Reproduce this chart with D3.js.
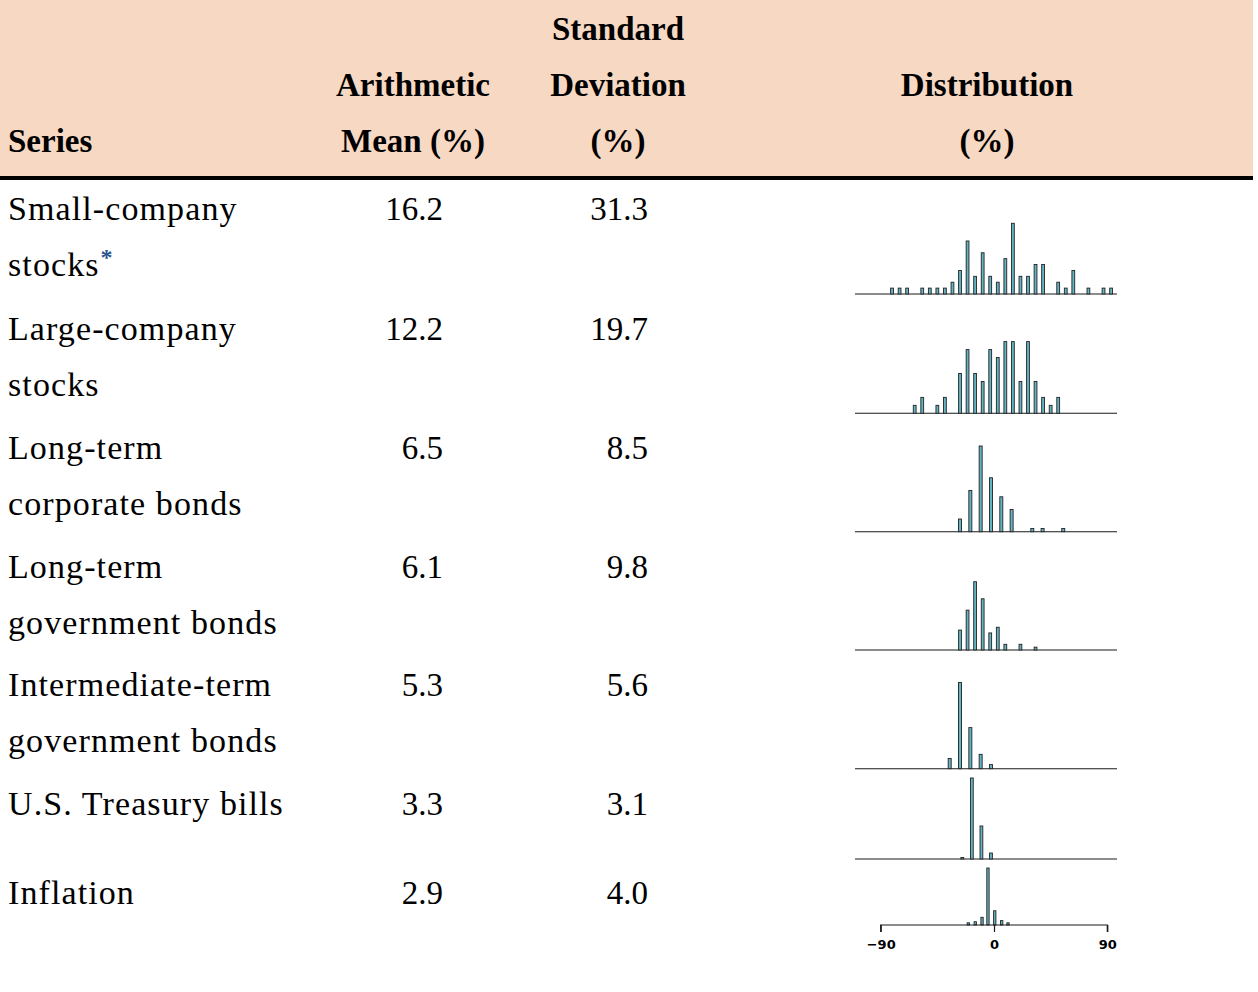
<!DOCTYPE html>
<html><head><meta charset="utf-8">
<script src="https://cdn.jsdelivr.net/npm/d3@7"></script>
<style>
html,body{margin:0;padding:0;background:#fff;}
svg{display:block;}
</style></head>
<body>
<svg id="chart" width="1258" height="992"></svg>
<script>
// ---- data ----
const seriesNames = [
  ["Small-company", "stocks"],
  ["Large-company", "stocks"],
  ["Long-term", "corporate bonds"],
  ["Long-term", "government bonds"],
  ["Intermediate-term", "government bonds"],
  ["U.S. Treasury bills"],
  ["Inflation"]
];
const arithmeticMean = ["16.2", "12.2", "6.5", "6.1", "5.3", "3.3", "2.9"];
const standardDeviation = ["31.3", "19.7", "8.5", "9.8", "5.6", "3.1", "4.0"];

// distribution bins: centre of each bin (%) and number of years
const smallBins   = [-81,-75,-69,-57,-51,-45,-39,-33,-27,-21,-15,-9,-3,3,9,15,21,27,33,39,51,57,63,75,87,93];
const smallCounts = [1,1,1,1,1,1,1,2,4,9,3,7,3,2,6,12,3,3,5,5,2,1,4,1,1,1];
const largeBins   = [-63,-57,-45,-39,-27,-21,-15,-9,-3,3,9,15,21,27,33,39,45,51];
const largeCounts = [1,2,1,2,5,8,5,4,8,7,9,9,4,9,4,2,1,2];
const corpBins    = [-27,-18.8,-10.6,-2.4,5.8,14,30.4,38.6,55];
const corpCounts  = [4,13,27,17,11,7,1,1,1];
const govBins     = [-27,-21,-15,-9,-3,3,9,21,33];
const govCounts   = [7,14,24,18,6,8,2,2,1];
const interBins   = [-35.2,-27,-18.8,-10.6,-2.4];
const interCounts = [5,42,20,7,2];
const billBins    = [-25.2,-17.6,-10.0,-2.4];
const billCounts  = [1,54,22,4];
const inflBins    = [-20.4,-14.9,-9.5,-4.8,0.6,6.1,11.1];
const inflCounts  = [2,3,7,52,13,4,2];
const axisTicks   = [-90, 0, 90];

const distBins   = [smallBins, largeBins, corpBins, govBins, interBins, billBins, inflBins];
const distCounts = [smallCounts, largeCounts, corpCounts, govCounts, interCounts, billCounts, inflCounts];

// ---- layout ----
const rowTop = [220, 340, 459, 578, 696, 815, 904];   // first-line baselines
const lineGap = 55.5;
const histBase = [294, 413.3, 531.7, 650, 768.7, 859, 925];
const histHeight = [70.7, 71.7, 85.7, 68.3, 86.3, 81, 57];
const barW = [2.8, 2.8, 3.0, 2.8, 3.0, 2.8, 2.3];

const svg = d3.select("#chart");
const serif = "'Liberation Serif','Times New Roman',Times,serif";

// header band
svg.append("rect").attr("x",0).attr("y",0).attr("width",1253).attr("height",176).attr("fill","#f7d8c3");
svg.append("rect").attr("x",0).attr("y",176).attr("width",1253).attr("height",4).attr("fill","#000");

const head = svg.append("g").attr("font-family", serif).attr("font-weight","bold")
  .attr("font-size", 33).attr("fill","#000");
const headers = [
  {x:8, anchor:"start", lines:[null,null,"Series"]},
  {x:413, anchor:"middle", lines:[null,"Arithmetic","Mean (%)"]},
  {x:618, anchor:"middle", lines:["Standard","Deviation","(%)"]},
  {x:987, anchor:"middle", lines:[null,"Distribution","(%)"]}
];
const headY = [40, 96, 152];
headers.forEach(h => h.lines.forEach((t,i) => {
  if (t) head.append("text").attr("x",h.x).attr("y",headY[i]).attr("text-anchor",h.anchor).text(t);
}));

// body
const body = svg.append("g").attr("font-family", serif).attr("font-size", 34).attr("fill","#000");
seriesNames.forEach((lines, r) => {
  lines.forEach((t, i) => {
    const tx = body.append("text").attr("x", 8).attr("y", rowTop[r] + i*lineGap)
      .attr("letter-spacing", "1.1px").text(t);
    if (r === 0 && i === 1) {
      tx.append("tspan").attr("fill","#2b5591").attr("font-size",24).attr("font-weight","bold")
        .attr("dx",1).attr("dy",-11).text("*");
    }
  });
  body.append("text").attr("x",443).attr("y",rowTop[r]).attr("text-anchor","end").attr("font-size",33).text(arithmeticMean[r]);
  body.append("text").attr("x",648).attr("y",rowTop[r]).attr("text-anchor","end").attr("font-size",33).text(standardDeviation[r]);
});

// histograms
const x = d3.scaleLinear().domain([-90, 90]).range([880.7, 1107.3]);
distBins.forEach((bins, r) => {
  const counts = distCounts[r];
  const y = d3.scaleLinear().domain([0, d3.max(counts)]).range([0, histHeight[r]]);
  const g = svg.append("g");
  if (r < 6) {
    g.append("line").attr("x1",855).attr("x2",1117).attr("y1",histBase[r]).attr("y2",histBase[r])
      .attr("stroke","#1a1a1a").attr("stroke-width",1.1);
  }
  g.selectAll("rect").data(bins.map((b,i)=>({b, c:counts[i]}))).join("rect")
    .attr("x", d => x(d.b) - barW[r]/2)
    .attr("y", d => histBase[r] - y(d.c))
    .attr("width", barW[r])
    .attr("height", d => y(d.c))
    .attr("fill", "#63b5c5")
    .attr("stroke", "#222")
    .attr("stroke-width", 0.9);
  if (r === 6) {
    const ax = g.append("g").attr("transform", `translate(0,${histBase[r]})`)
      .call(d3.axisBottom(x).tickValues(axisTicks).tickSize(7).tickPadding(8)
        .tickFormat(d => d < 0 ? "\u2212" + Math.abs(d) : String(d)));
    ax.select(".domain").attr("stroke","#1a1a1a").attr("stroke-width",1.2).attr("d", `M${x(-90)},7V0H${x(90)}V7`);
    ax.selectAll(".tick line").attr("stroke","#1a1a1a").attr("stroke-width",1.2);
    ax.selectAll(".tick text").attr("font-family","'DejaVu Sans',sans-serif").attr("font-weight","bold")
      .attr("font-size",13).attr("fill","#000");
  }
});
</script>
</body></html>
